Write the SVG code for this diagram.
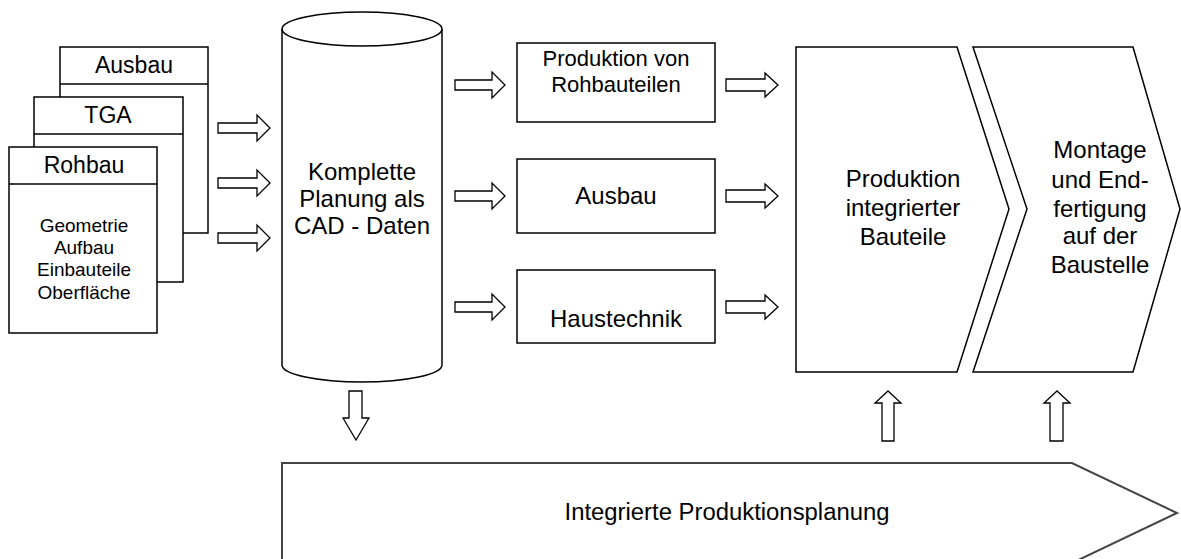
<svg xmlns="http://www.w3.org/2000/svg" width="1181" height="559" viewBox="0 0 1181 559">
<style>
.s{fill:#fff;stroke:#000;stroke-width:1.5}
.a{fill:#fff;stroke:#000;stroke-width:1.3;stroke-linejoin:miter}
.t{font-family:"Liberation Sans",Arial,sans-serif;fill:#000;text-anchor:middle}
</style>
<rect width="1181" height="559" fill="#fff"/>
<g id="doc-ausbau">
<rect class="s" x="60" y="47" width="148" height="186"/>
<line class="s" x1="60" y1="84" x2="208" y2="84"/>
<text class="t" x="134" y="73" font-size="23">Ausbau</text>
</g>
<g id="doc-tga">
<rect class="s" x="34" y="97" width="149" height="185"/>
<line class="s" x1="34" y1="134" x2="183" y2="134"/>
<text class="t" x="108" y="123" font-size="23">TGA</text>
</g>
<g id="doc-rohbau">
<rect class="s" x="9" y="147" width="148" height="186"/>
<line class="s" x1="9" y1="184" x2="157" y2="184"/>
<text class="t" x="84" y="173" font-size="23">Rohbau</text>
<text class="t" x="84" y="232" font-size="19">Geometrie</text>
<text class="t" x="84" y="254" font-size="19">Aufbau</text>
<text class="t" x="84" y="276" font-size="19">Einbauteile</text>
<text class="t" x="84" y="299" font-size="19">Oberfläche</text>
</g>
<g id="cad">
<path class="s" d="M282,29 L282,365 A80,17 0 0 0 442,365 L442,29"/>
<ellipse class="s" cx="362" cy="29" rx="80" ry="17"/>
<text class="t" x="362" y="180" font-size="24">Komplette</text>
<text class="t" x="362" y="207" font-size="24">Planung als</text>
<text class="t" x="362" y="234" font-size="24">CAD - Daten</text>
</g>
<g id="box-rohbauteile">
<rect class="s" x="517" y="43" width="198" height="79"/>
<text class="t" x="616" y="66" font-size="22">Produktion von</text>
<text class="t" x="616" y="92" font-size="22">Rohbauteilen</text>
</g>
<g id="box-ausbau">
<rect class="s" x="517" y="159" width="198" height="74"/>
<text class="t" x="616" y="204" font-size="24">Ausbau</text>
</g>
<g id="box-haustechnik">
<rect class="s" x="517" y="270" width="198" height="73"/>
<text class="t" x="616" y="327" font-size="24">Haustechnik</text>
</g>
<g id="chevron-produktion">
<path class="s" d="M796,47 L957,47 L1009,209 L957,372 L796,372 Z"/>
<text class="t" x="903" y="187" font-size="24">Produktion</text>
<text class="t" x="903" y="216" font-size="24">integrierter</text>
<text class="t" x="903" y="245" font-size="24">Bauteile</text>
</g>
<g id="chevron-montage">
<path class="s" d="M973,47 L1133,47 L1180,209 L1133,372 L973,372 L1027,209 Z"/>
<text class="t" x="1100" y="158" font-size="24">Montage</text>
<text class="t" x="1100" y="188" font-size="24">und End-</text>
<text class="t" x="1100" y="217" font-size="24">fertigung</text>
<text class="t" x="1100" y="244" font-size="24">auf der</text>
<text class="t" x="1100" y="273" font-size="24">Baustelle</text>
</g>
<g id="planung">
<path d="M282,463 L1072,463 L1177,513 L1072,563 L282,563 Z" fill="#fff" stroke="#444" stroke-width="2"/>
<text class="t" x="727" y="520" font-size="23" textLength="325" lengthAdjust="spacingAndGlyphs">Integrierte Produktionsplanung</text>
</g>
<g id="connectors">
<path class="a" d="M218,123 L257,123 L257,115 L270,128 L257,141 L257,133 L218,133 Z"/>
<path class="a" d="M218,178 L257,178 L257,170 L270,183 L257,196 L257,188 L218,188 Z"/>
<path class="a" d="M218,233 L257,233 L257,225 L270,238 L257,251 L257,243 L218,243 Z"/>
<path class="a" d="M455,80 L492,80 L492,72 L505,85 L492,98 L492,90 L455,90 Z"/>
<path class="a" d="M455,191 L492,191 L492,183 L505,196 L492,209 L492,201 L455,201 Z"/>
<path class="a" d="M455,302 L492,302 L492,294 L505,307 L492,320 L492,312 L455,312 Z"/>
<path class="a" d="M726,79 L765,79 L765,73 L778,85 L765,97 L765,91 L726,91 Z"/>
<path class="a" d="M726,190 L765,190 L765,184 L778,196 L765,208 L765,202 L726,202 Z"/>
<path class="a" d="M726,301 L765,301 L765,295 L778,307 L765,319 L765,313 L726,313 Z"/>
<path class="a" d="M349,391 L362,391 L362,418 L369,418 L356,440 L343,418 L349,418 Z"/>
<path class="a" d="M882,441 L894,441 L894,403 L901,403 L888,391 L875,403 L882,403 Z"/>
<path class="a" d="M1050,441 L1063,441 L1063,403 L1070,403 L1057,391 L1044,403 L1050,403 Z"/>
</g>
</svg>
